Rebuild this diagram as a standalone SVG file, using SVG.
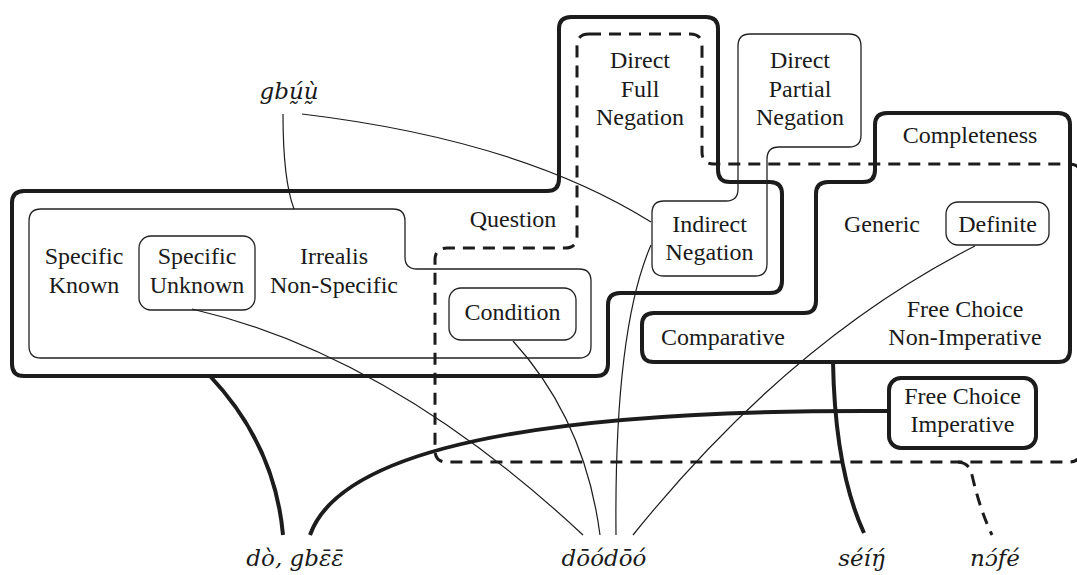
<svg xmlns="http://www.w3.org/2000/svg" width="1077" height="575" viewBox="0 0 1077 575">
<style>
.thick{fill:none;stroke:#1c1c1c;stroke-width:4;stroke-linejoin:round}
.thin{fill:none;stroke:#222;stroke-width:1.3}
.dash{fill:none;stroke:#1c1c1c;stroke-width:3;stroke-dasharray:12 8}
.lbl{font-family:"Liberation Serif","DejaVu Serif",serif;font-size:24px;fill:#1a1a1a;text-anchor:middle}
.word{font-family:"DejaVu Serif","Liberation Serif",serif;font-size:23px;font-style:italic;fill:#1a1a1a;text-anchor:middle}
.c1{fill:none;stroke:#1c1c1c;stroke-width:1.2}
.c4{fill:none;stroke:#1c1c1c;stroke-width:4}
.cd{fill:none;stroke:#1c1c1c;stroke-width:3;stroke-dasharray:12 8}
</style>
<rect width="1077" height="575" fill="#fff"/>

<g id="region-left">
<path class="thick" d="M24 191 L547 191 Q559 191 559 179 L559 29 Q559 17 571 17 L706 17 Q718 17 718 29 L718 170 Q718 182 730 182 L770 182 Q782 182 782 194 L782 281 Q782 293 770 293 L620 293 Q608 293 608 305 L608 364 Q608 376 596 376 L24 376 Q12 376 12 364 L12 203 Q12 191 24 191 Z"/>
</g>
<g id="region-completeness">
<path class="thick" d="M887 113 L1058 113 Q1070 113 1070 125 L1070 350 Q1070 362 1058 362 L654 362 Q642 362 642 350 L642 325 Q642 313 654 313 L804 313 Q816 313 816 301 L816 194 Q816 182 828 182 L863 182 Q875 182 875 170 L875 125 Q875 113 887 113 Z"/>
<text class="lbl" x="970" y="143">Completeness</text>
</g>
<g id="region-question">
<path class="dash" d="M589 34 L690 34 Q702 34 702 46 L702 152 Q702 164 714 164 L1069 164 Q1081 164 1081 176 L1081 450 Q1081 462 1069 462 L447 462 Q435 462 435 450 L435 260 Q435 248 447 248 L565 248 Q577 248 577 236 L577 46 Q577 34 589 34 Z"/>
<text class="lbl" x="513" y="227">Question</text>
</g>
<g id="region-irrealis">
<path class="thin" d="M41 209 L393 209 Q405 209 405 221 L405 257 Q405 269 417 269 L579 269 Q591 269 591 281 L591 346 Q591 358 579 358 L41 358 Q29 358 29 346 L29 221 Q29 209 41 209 Z"/>
<text class="lbl" x="334" y="264">Irrealis</text>
<text class="lbl" x="334" y="293">Non-Specific</text>
</g>
<g id="specific-known">
<text class="lbl" x="84" y="264">Specific</text>
<text class="lbl" x="84" y="293">Known</text>
</g>
<g id="specific-unknown">
<rect class="thin" x="139" y="236" width="116" height="74" rx="12"/>
<text class="lbl" x="197" y="264">Specific</text>
<text class="lbl" x="197" y="293">Unknown</text>
</g>
<g id="condition">
<rect class="thin" x="449" y="288" width="127" height="52" rx="12"/>
<text class="lbl" x="512.5" y="320">Condition</text>
</g>
<g id="direct-full-negation">
<text class="lbl" x="640" y="68">Direct</text>
<text class="lbl" x="640" y="97">Full</text>
<text class="lbl" x="640" y="125">Negation</text>
</g>
<g id="negation-partial-indirect">
<path class="thin" d="M664 201 L726 201 Q738 201 738 189 L738 46 Q738 34 750 34 L849 34 Q861 34 861 46 L861 135 Q861 147 849 147 L779 147 Q767 147 767 159 L767 264 Q767 276 755 276 L664 276 Q652 276 652 264 L652 213 Q652 201 664 201 Z"/>
<text class="lbl" x="800" y="68">Direct</text>
<text class="lbl" x="800" y="97">Partial</text>
<text class="lbl" x="800" y="125">Negation</text>
<text class="lbl" x="709.5" y="232">Indirect</text>
<text class="lbl" x="709.5" y="260">Negation</text>
</g>
<g id="generic">
<text class="lbl" x="882" y="232">Generic</text>
</g>
<g id="definite">
<rect class="thin" x="946" y="202" width="103" height="43" rx="12"/>
<text class="lbl" x="997.5" y="232">Definite</text>
</g>
<g id="comparative">
<text class="lbl" x="723" y="345">Comparative</text>
</g>
<g id="free-choice-non-imperative">
<text class="lbl" x="965" y="317">Free Choice</text>
<text class="lbl" x="965" y="345">Non-Imperative</text>
</g>
<g id="free-choice-imperative">
<rect class="thick" x="889" y="378" width="147" height="70" rx="12"/>
<text class="lbl" x="962.5" y="404">Free Choice</text>
<text class="lbl" x="962.5" y="432">Imperative</text>
</g>

<g id="word-gbuu"><text class="word" x="289" y="99">gbṵ́ṵ̀</text></g>
<g id="word-do-gbee"><text class="word" x="295" y="566">dò, gbɛ̄ɛ̄</text></g>
<g id="word-doodoo"><text class="word" x="604" y="566">dōódōó</text></g>
<g id="word-seing"><text class="word" x="862" y="566">séíŋ́</text></g>
<g id="word-nofe"><text class="word" x="995" y="566">nɔ́fé</text></g>

<g id="connectors">
<path class="c1" d="M283 114 Q283 180 294 209"/>
<path class="c1" d="M302 114 Q520 140 651 222"/>
<path class="c1" d="M192 309 Q390 355 583 535"/>
<path class="c1" d="M513 341 Q585 420 600 535"/>
<path class="c1" d="M651 245 Q614 330 616 535"/>
<path class="c1" d="M975 246 Q790 340 633 535"/>
<path class="c4" d="M210 376 Q275 445 283 535"/>
<path class="c4" d="M310 535 Q355 408 889 411"/>
<path class="c4" d="M833 362 Q835 470 864 533"/>
<path class="cd" d="M958 462 Q970 463 972 475 Q980 510 992 535"/>
</g>
</svg>
